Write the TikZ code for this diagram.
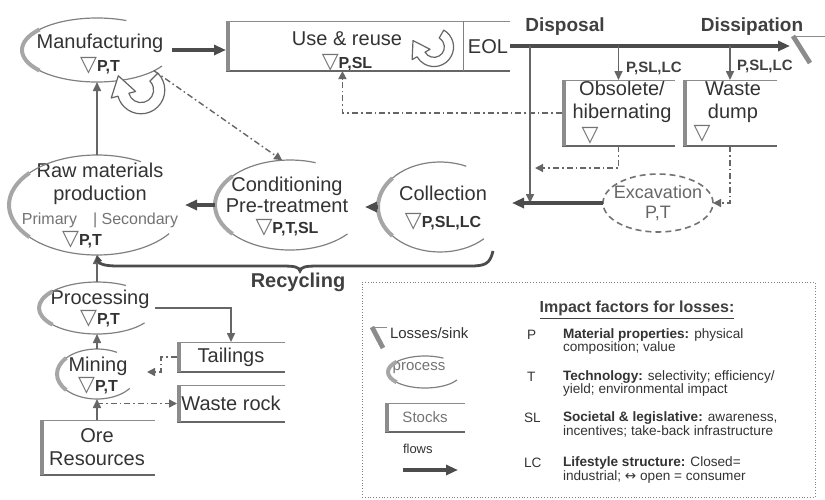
\documentclass[tikz,border=0pt]{standalone}
\usepackage{fontspec}
\setmainfont{Liberation Sans}
\newfontfamily\symfont{DejaVu Sans}
\usetikzlibrary{calc,arrows.meta,shapes.geometric}

\newcommand{\tri}{{\symfont\fontsize{11}{11}\selectfont\color{black!55}▽}}
\newcommand{\fac}[1]{{\bfseries\fontsize{8}{9}\selectfont #1}}
% stock: grey bar on the left, open on the right
\newcommand{\stockframe}[1]{
    \draw[black!45,thin] (#1.north east) -- (#1.north west);
    \draw[black!60,semithick] (#1.south west) -- (#1.south east);
    \draw[black!45,line width=2.2pt] ($(#1.north west)+(1.1pt,0)$) -- ($(#1.south west)+(1.1pt,0)$);
}
% process: ellipse open to the right
\newcommand{\procarc}[5]{
    \draw[black!50,semithick] ($(#1.center)+(#4:#2 and #3)$) arc[start angle=#4,end angle=#5,x radius=#2,y radius=#3];
    \draw[black!35,line width=2pt] ($(#1.center)+(140:#2 and #3)$) arc[start angle=140,end angle=220,x radius=#2,y radius=#3];
}
\newcommand{\sinkmark}[4]{
    \draw[black!45,thin] (#1) -- ++(#4,0);
    \draw[black!45,line width=2.4pt] (#1) -- ++(#2,#3);
}
\newcommand{\turnarrow}[3]{
    \begin{scope}[shift={(#1)},yscale=-1,rotate=#2,scale=#3]
        \draw[black!60,semithick,fill=white,line join=round]
            (60:17) arc[start angle=60,end angle=-150,radius=17]
            -- (-150:22) -- ($(-150:13)+(120:14)$) -- (-150:4) -- (-150:9)
            arc[start angle=-150,end angle=60,radius=9] -- cycle;
    \end{scope}
}

\begin{document}
\begin{tikzpicture}[x=0.5pt,y=-0.5pt,every node/.style={inner sep=0pt,outer sep=0pt}]
\useasboundingbox (0,0) rectangle (825,499);

\tikzstyle{lbl}=[text=black!80,font=\fontsize{10}{11.5}\selectfont,align=center]
\tikzstyle{proc}=[ellipse]
\tikzstyle{stock}=[rectangle,lbl]
\tikzstyle{flow}=[-{Triangle[length=6pt,width=5pt]},black!70,line width=1.6pt]
\tikzstyle{sideflow}=[-{Triangle[length=4.5pt,width=4pt]},black!60,line width=0.8pt]
\tikzstyle{dashflow}=[-{Triangle[length=4pt,width=4pt]},black!60,line width=0.7pt,dash pattern=on 3pt off 1.5pt on 0.8pt off 1.5pt]
\tikzstyle{head}=[text=black!75,font=\bfseries\fontsize{9.5}{10}\selectfont]
\tikzstyle{legtext}=[text=black!80,font=\fontsize{6.8}{6.8}\selectfont,align=left,anchor=west]

% processes
\node[proc,minimum width=75pt,minimum height=32pt] (manu) at (97,50) {};
\node[lbl] (manutxt) at (100,54) {Manufacturing\\\tri\fac{P,T}};
\procarc{manu}{75}{32}{30}{293}
\turnarrow{141,90}{15}{1.4}

\node[proc,minimum width=88pt,minimum height=50pt] (raw) at (97,205) {};
\node[lbl] (rawtxt) at (100,184) {Raw materials\\production};
\node[lbl,text=black!55,font=\fontsize{8}{9}\selectfont] (rawsub) at (100,220) {Primary\quad| Secondary};
\node[lbl] (rawfac) at (82,240) {\tri\fac{P,T}};
\procarc{raw}{88}{50}{35}{300}

\node[proc,minimum width=75pt,minimum height=45pt] (cond) at (290,205) {};
\node[lbl,font=\fontsize{10}{10.5}\selectfont] (condtxt) at (287,207) {Conditioning\\Pre-treatment\\\tri\fac{P,T,SL}};
\procarc{cond}{75}{45}{40}{290}

\node[proc,minimum width=62pt,minimum height=45pt] (coll) at (440,207) {};
\node[lbl] (colltxt) at (443,208) {Collection\\[2pt]\tri\fac{P,SL,LC}};
\procarc{coll}{62}{45}{45}{295}

\node[proc,draw=black!55,densely dashed,thick,minimum width=55pt,minimum height=29pt] (exc) at (658,203) {};
\node[lbl,text=black!60,font=\fontsize{9}{10}\selectfont] (exctxt) at (658,203) {Excavation\\P,T};

\node[proc,minimum width=58pt,minimum height=26pt] (processing) at (97,308) {};
\node[lbl,font=\fontsize{10}{10}\selectfont] (processingtxt) at (100,309) {Processing\\\tri\fac{P,T}};
\procarc{processing}{58}{26}{35}{300}

\node[proc,minimum width=40pt,minimum height=25pt] (mining) at (97,374) {};
\node[lbl,font=\fontsize{10}{10}\selectfont] (miningtxt) at (98,376) {Mining\\\tri\fac{P,T}};
\procarc{mining}{40}{25}{35}{300}

% stocks
\node[stock,minimum width=142pt,minimum height=25pt] (use) at (368,46) {};
\node[lbl] (usetxt) at (347,51) {Use \& reuse\\\tri\fac{P,SL}};
\stockframe{use}
\draw[black!50,thin] ($(use.north west)+(237,0)$) -- ($(use.south west)+(237,0)$);
\node[lbl] (eol) at (488,47) {EOL};
\turnarrow{434,47}{0}{1.15}

\node[stock,minimum width=56.5pt,minimum height=33pt] (obs) at (618.5,113) {};
\node[lbl] (obstxt) at (622,102) {Obsolete/\\hibernating};
\node (obstri) at (590,136) {\tri};
\stockframe{obs}

\node[stock,minimum width=47pt,minimum height=33pt] (waste) at (730,113) {};
\node[lbl] (wastetxt) at (733,102) {Waste\\dump};
\node[font=\fontsize{16}{16}\selectfont] (wastetri) at (702,134) {\tri};
\stockframe{waste}

\node[stock,minimum width=54pt,minimum height=15pt] (tail) at (231,357) {Tailings};
\stockframe{tail}
\node[stock,minimum width=54pt,minimum height=18.5pt] (rock) at (231,403.5) {Waste rock};
\stockframe{rock}
\node[stock,minimum width=57.5pt,minimum height=27.5pt] (ore) at (97,447.5) {Ore\\Resources};
\stockframe{ore}

% disposal line
\coordinate (d0) at (530,46);
\coordinate (dend) at (790,46);
\coordinate (sinkA) at (793,36);
\node[head] (disposal) at (565,27) {Disposal};
\node[head] (dissip) at (752,27) {Dissipation};
\draw[flow] (use.east) -- (dend);
\sinkmark{sinkA}{17}{27}{32}
\draw[sideflow] (d0) -- (d0 |- exc.west);
\draw[sideflow] (obs.north |- d0) -- (obs.north);
\draw[sideflow] (waste.north |- d0) -- (waste.north);
\node[head,font=\bfseries\fontsize{7.5}{8}\selectfont,anchor=west] (plc1) at (626,68) {P,SL,LC};
\node[head,font=\bfseries\fontsize{7.5}{8}\selectfont,anchor=west] (plc2) at (737,66) {P,SL,LC};

% main flows
\draw[flow] (manu.east) -- (manu.east -| use.west);
\draw[flow,shorten >=5pt] (exc.west) -- (exc.west -| coll.east);
\draw[flow] (coll.west) -- (coll.west -| cond.east);
\draw[flow] (cond.west) -- (cond.west -| raw.east);
\draw[sideflow] (raw.north) -- (manu.south);
\draw[sideflow] (processing.north) -- (raw.south);
\draw[sideflow] (mining.north) -- (processing.south);
\draw[sideflow] (ore.north) -- (mining.south);
\draw[sideflow] (processing.east) -| (tail.north);

% dash-dotted flows
\draw[dashflow] (manu.-20) -- (cond.100);
\draw[dashflow] (obs.west) -| ($(use.south west)!0.41!(use.south east)$);
\draw[dashflow] (obs.south) |- ($(d0 |- obs.south)+(5,22)$);
\draw[dashflow] (waste.south) |- (exc.east);
\draw[dashflow] (tail.west) -- ++(-16,0) |- ($(mining.east)+(10,-2)$);
\draw[dashflow] (ore.north |- rock.west) -- (rock.west);

% recycling
\coordinate (recR) at (493,251);
\draw[black!70,line width=1.4pt,-{Triangle[length=3.5pt,width=3.5pt]}] (recR)
    .. controls (490,264) and (485,266) .. (470,266) -- (318,266)
    .. controls (305,266) and (301,267) .. (300,271)
    .. controls (299,267) and (295,266) .. (282,266) -- (118,266)
    .. controls (105,266) and (99,264) .. (raw.south);
\node[head,font=\bfseries\fontsize{10}{10}\selectfont] (recyc) at (298,282) {Recycling};

% legend
\node[draw=black!50,densely dotted,minimum width=226.5pt,minimum height=107.5pt] (legend) at (588.5,389.5) {};
\node[head,font=\bfseries\fontsize{8}{9}\selectfont] (legtitle) at (637,310) {\underline{Impact factors for losses:}};
\coordinate (legsink) at (372,327);
\sinkmark{legsink}{11}{21}{15}
\node[legtext,font=\fontsize{7.5}{8}\selectfont] (legsinktxt) at (390,333) {Losses/sink};
\node[proc,minimum width=37pt,minimum height=16pt] (legproc) at (425,372) {};
\node[lbl,text=black!55,font=\fontsize{7.5}{8}\selectfont] (legproctxt) at (419,368) {process};
\procarc{legproc}{37}{16}{30}{300}
\node[stock,text=black!55,font=\fontsize{7.5}{8}\selectfont,minimum width=40pt,minimum height=14.5pt] (legstock) at (425,417.5) {Stocks};
\stockframe{legstock}
\node[legtext,font=\fontsize{6.5}{7}\selectfont] (legflowtxt) at (403,449) {flows};
\coordinate (legflowA) at (403,470);
\coordinate (legflowB) at (458,470);
\draw[flow] (legflowA) -- (legflowB);

\node[legtext] (fP) at (527,335) {P};
\node[legtext] (fT) at (527,377) {T};
\node[legtext] (fSL) at (524,418) {SL};
\node[legtext] (fLC) at (524,463) {LC};
\node[legtext] (dP) at (563,341.5) {\textbf{Material properties:} physical\\composition; value};
\node[legtext] (dT) at (563,383.5) {\textbf{Technology:} selectivity; efficiency/\\yield; environmental impact};
\node[legtext] (dSL) at (563,424.5) {\textbf{Societal \& legislative:} awareness,\\incentives; take-back infrastructure};
\node[legtext] (dLC) at (563,470) {\textbf{Lifestyle structure:} Closed=\\industrial; {\symfont ↔} open = consumer};
\end{tikzpicture}
\end{document}
